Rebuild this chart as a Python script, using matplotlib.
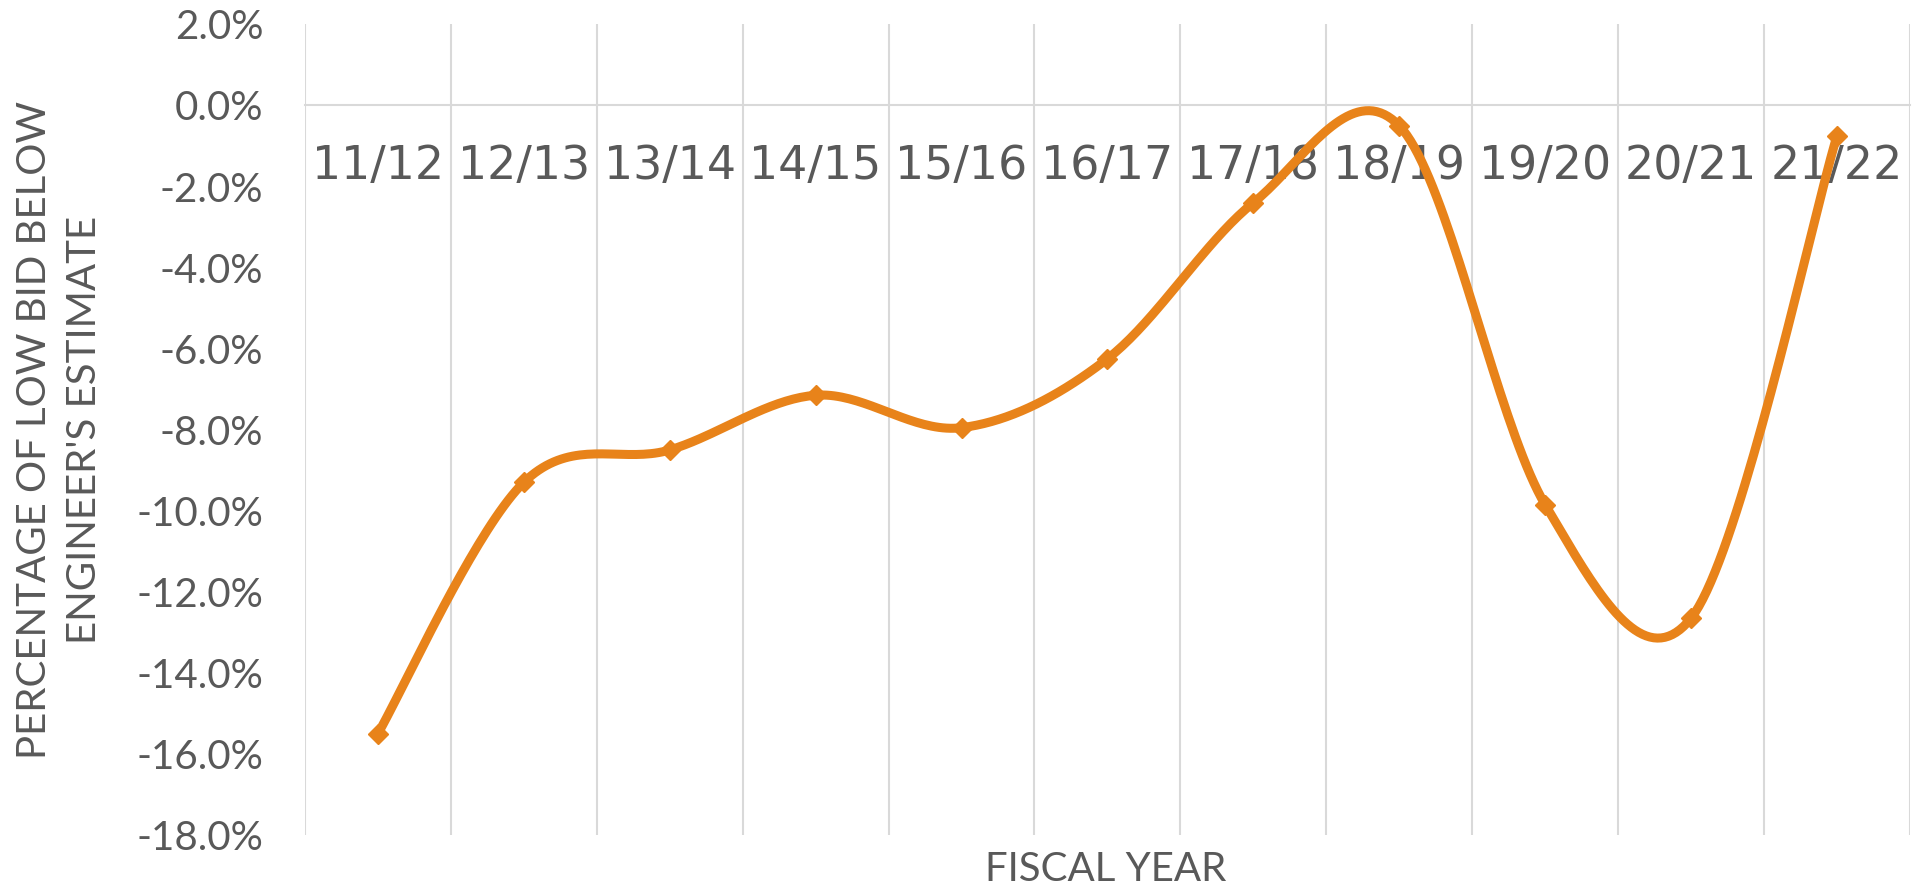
import matplotlib.pyplot as plt
import numpy as np
from matplotlib.ticker import FuncFormatter


FISCAL_YEARS = ["11/12", "12/13", "13/14", "14/15", "15/16", "16/17",
                "17/18", "18/19", "19/20", "20/21", "21/22"]
LOW_BID_PCT = [-15.5, -9.3, -8.5, -7.15, -7.95, -6.25, -2.4, -0.5, -9.85, -12.65, -0.75]
Y_TICKS = [2, 0, -2, -4, -6, -8, -10, -12, -14, -16, -18]

LINE_COLOR = "#E8831A"
TEXT_COLOR = "#595959"
GRID_COLOR = "#D9D9D9"
FONT = ["Lato", "DejaVu Sans"]


def smooth_curve(xs, ys, steps=40):
    # Excel-style smoothed line: cubic bezier through each pair of points
    xs = np.asarray(xs, dtype=float)
    ys = np.asarray(ys, dtype=float)
    pts = np.column_stack([xs, ys])
    padded = np.vstack([pts[0], pts, pts[-1]])
    t = np.linspace(0, 1, steps)[:, None]
    out = []
    for i in range(len(pts) - 1):
        p0, p1 = padded[i + 1], padded[i + 2]
        c1 = p0 + (padded[i + 2] - padded[i]) / 6
        c2 = p1 - (padded[i + 3] - padded[i + 1]) / 6
        seg = ((1 - t) ** 3) * p0 + 3 * ((1 - t) ** 2) * t * c1 \
            + 3 * (1 - t) * t ** 2 * c2 + t ** 3 * p1
        out.append(seg)
    curve = np.vstack(out)
    return curve[:, 0], curve[:, 1]


fig = plt.figure(figsize=(19.13, 8.88), dpi=100)
ax = fig.add_axes([0.1594, 0.0597, 0.8390, 0.9128])

x = np.arange(len(FISCAL_YEARS))
cx, cy = smooth_curve(x, LOW_BID_PCT)
ax.plot(cx, cy, color=LINE_COLOR, lw=6.5, solid_capstyle="round", zorder=3)
ax.plot(x, LOW_BID_PCT, linestyle="none", marker="D", markersize=10,
        color=LINE_COLOR, zorder=4)

ax.set_xlim(-0.5, len(FISCAL_YEARS) - 0.5)
ax.set_ylim(-18, 2)
ax.set_yticks(Y_TICKS)
ax.yaxis.set_major_formatter(FuncFormatter(lambda v, _: f"{v:.1f}%"))
ax.set_xticks(x)
ax.set_xticklabels(FISCAL_YEARS)
ax.set_xticks(np.arange(-0.5, len(FISCAL_YEARS)), minor=True)
ax.grid(which="minor", axis="x", color=GRID_COLOR, lw=1.5)
ax.tick_params(axis="both", which="both", length=0)
ax.tick_params(axis="x", which="major", pad=28, labelsize=33,
               labelcolor=TEXT_COLOR)
ax.tick_params(axis="y", pad=30, labelsize=29, labelcolor=TEXT_COLOR)
for lbl in ax.get_xticklabels() + ax.get_yticklabels():
    lbl.set_family(FONT)

for side in ["left", "right", "top"]:
    ax.spines[side].set_visible(False)
ax.spines["bottom"].set_position(("data", 0))
ax.spines["bottom"].set_color(GRID_COLOR)
ax.spines["bottom"].set_linewidth(1.5)

ax.set_ylabel("PERCENTAGE OF LOW BID BELOW\nENGINEER'S ESTIMATE", fontsize=29,
              color=TEXT_COLOR, family=FONT, labelpad=24, linespacing=1.45)
fig.text(0.578, 0.021, "FISCAL YEAR", ha="center", va="center", fontsize=29,
         color=TEXT_COLOR, family=FONT)

fig.savefig("out.png", dpi=100)
